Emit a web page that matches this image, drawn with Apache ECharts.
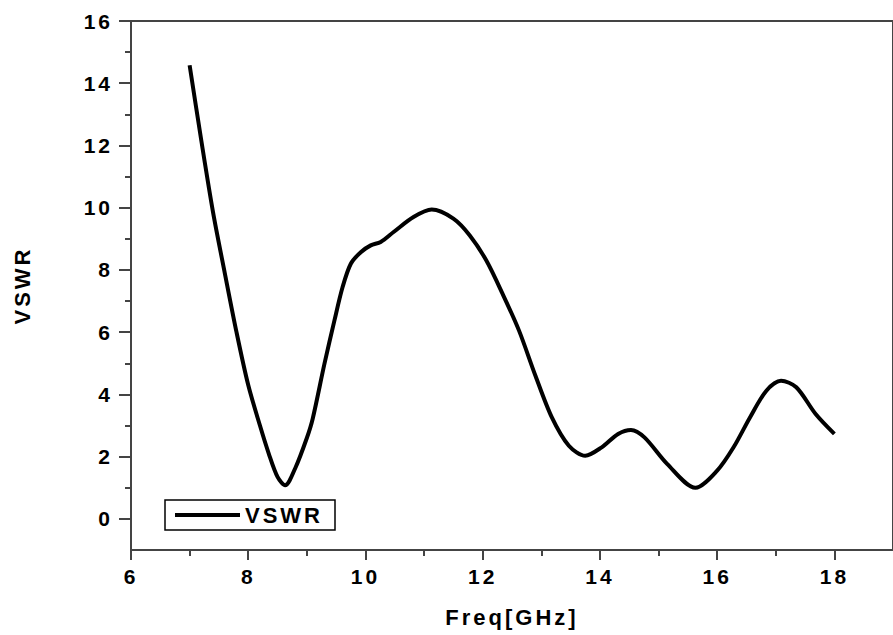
<!DOCTYPE html>
<html><head><meta charset="utf-8">
<script src="https://cdn.jsdelivr.net/npm/echarts@6/dist/echarts.min.js"></script>
<style>
html,body{margin:0;padding:0;background:#fff}
#c{width:893px;height:635px}
#c svg text{letter-spacing:3px}
</style>
</head><body><div id="c"></div>
<script>
// ---- data ----
const freq = [7.00, 7.20, 7.40, 7.60, 7.80, 8.00, 8.20, 8.35, 8.50, 8.63, 8.80, 9.00, 9.10, 9.30, 9.47, 9.61, 9.75, 9.92, 10.09, 10.26, 10.48, 10.82, 11.13, 11.50, 11.78, 12.06, 12.34, 12.62, 12.90, 13.18, 13.47, 13.75, 14.03, 14.31, 14.53, 14.76, 15.15, 15.63, 16.00, 16.28, 16.56, 16.84, 17.09, 17.35, 17.68, 18.0];
const vswr = [14.58, 12.15, 9.85, 7.90, 6.00, 4.30, 3.00, 2.10, 1.35, 1.08, 1.62, 2.60, 3.22, 4.98, 6.37, 7.45, 8.20, 8.57, 8.79, 8.90, 9.22, 9.70, 9.94, 9.65, 9.11, 8.31, 7.23, 6.05, 4.60, 3.26, 2.35, 2.03, 2.30, 2.73, 2.86, 2.62, 1.76, 1.00, 1.55, 2.30, 3.26, 4.12, 4.44, 4.23, 3.37, 2.73];
const xMajorTicks = [6, 8, 10, 12, 14, 16, 18];
const xMinorTicks = [7, 9, 11, 13, 15, 17];
const yMajorTicks = [0, 2, 4, 6, 8, 10, 12, 14, 16];
const yMinorTicks = [1, 3, 5, 7, 9, 11, 13, 15];
const seriesName = 'VSWR';
const xName = 'Freq[GHz]';
const yName = 'VSWR';

const chart = echarts.init(document.getElementById('c'), null, {renderer: 'svg'});
const axisColor = '#444';
const font = {color: '#000', fontFamily: 'Liberation Sans, Arial, sans-serif', fontWeight: 'bold'};
const xRange = {min: 6, max: 19};
const yRange = {min: -1, max: 16};

const option = {
  animation: false,
  backgroundColor: '#fff',
  grid: {left: 131, top: 21, right: -8, bottom: 85, show: true, borderColor: axisColor, borderWidth: 2, backgroundColor: 'transparent'},
  legend: {
    data: [{name: seriesName, icon: 'rect'}], left: 165, top: 500, orient: 'horizontal',
    padding: [4, 24, 4, 10], itemWidth: 65, itemHeight: 4,
    itemStyle: {color: '#000'},
    borderColor: '#000', borderWidth: 1.5, borderRadius: 0,
    textStyle: Object.assign({fontSize: 22, lineHeight: 22}, font)
  },
  xAxis: [
    {
      type: 'value', ...xRange, position: 'bottom',
      axisLine: {onZero: false, lineStyle: {color: axisColor, width: 2}},
      axisTick: {customValues: xMajorTicks, length: 10, lineStyle: {color: axisColor, width: 2}},
      axisLabel: Object.assign({customValues: xMajorTicks, margin: 16, fontSize: 21}, font),
      splitLine: {show: false},
      name: xName, nameLocation: 'middle', nameGap: 56,
      nameTextStyle: Object.assign({fontSize: 22}, font)
    },
    {
      type: 'value', ...xRange, position: 'bottom',
      axisLine: {show: false, onZero: false},
      axisTick: {customValues: xMinorTicks, length: 6, lineStyle: {color: axisColor, width: 2}},
      axisLabel: {show: false}, splitLine: {show: false}
    }
  ],
  yAxis: [
    {
      type: 'value', ...yRange, position: 'left',
      axisLine: {show: true, onZero: false, lineStyle: {color: axisColor, width: 2}},
      axisTick: {show: true, customValues: yMajorTicks, length: 12, lineStyle: {color: axisColor, width: 2}},
      axisLabel: Object.assign({customValues: yMajorTicks, margin: 18, fontSize: 21}, font),
      splitLine: {show: false},
      name: yName, nameLocation: 'middle', nameGap: 98, nameRotate: 90,
      nameTextStyle: Object.assign({fontSize: 22}, font)
    },
    {
      type: 'value', ...yRange, position: 'left',
      axisLine: {show: false, onZero: false},
      axisTick: {show: true, customValues: yMinorTicks, length: 6, lineStyle: {color: axisColor, width: 2}},
      axisLabel: {show: false}, splitLine: {show: false}
    }
  ],
  series: [{
    name: seriesName, type: 'line', xAxisIndex: 0, yAxisIndex: 0,
    data: freq.map((f, i) => [f, vswr[i]]),
    symbol: 'none', smooth: 0.3,
    color: '#000',
    lineStyle: {color: '#000', width: 4}
  }]
};
chart.setOption(option);
</script>
</body></html>
